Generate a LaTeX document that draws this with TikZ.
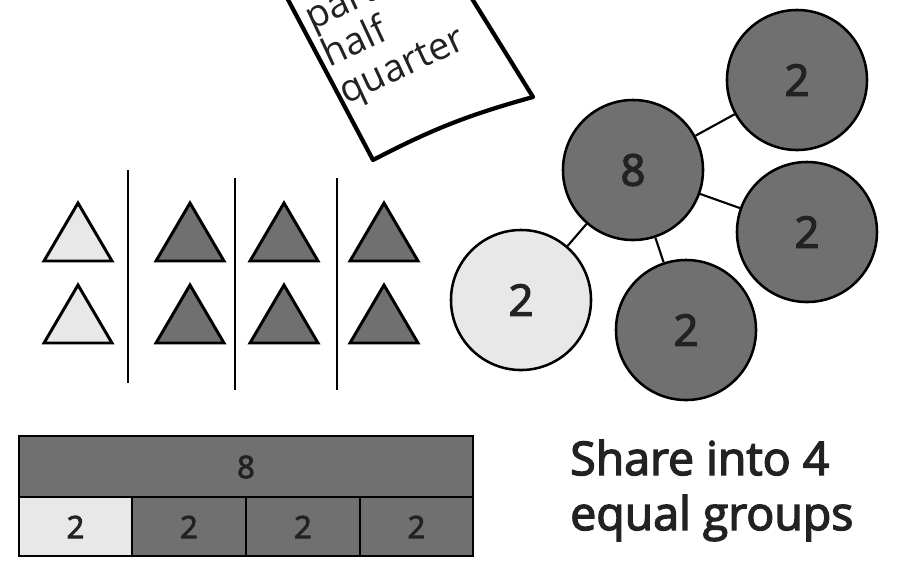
\documentclass[tikz,border=0pt]{standalone}
\usepackage{fontspec}
\setmainfont{Open Sans}
\newfontfamily\heavy{Open Sans}[FakeBold=3]
\usetikzlibrary{positioning}
\definecolor{shade}{HTML}{707070}
\definecolor{pale}{HTML}{E8E8E8}
\definecolor{ink}{HTML}{222222}

\begin{document}
\begin{tikzpicture}[x=0.025cm,y=-0.025cm,
  tri/.style={draw=black,line width=2.1pt,line join=miter},
  bubble/.style={circle,draw=black,line width=1.8pt,minimum size=3.5cm,inner sep=0pt,fill=shade,text=ink,font=\heavy\fontsize{31}{31}\selectfont},
  link/.style={line width=1.5pt},
  cell/.style={draw=black,line width=1.8pt},
  num/.style={text=ink,font=\heavy\fontsize{22}{22}\selectfont}]
\useasboundingbox (0,0) rectangle (922,562);
\draw[line width=3pt,fill=white,line join=round] (267,-40) -- (373,160) to[bend left=6] (533,97) -- (448,-40);
\node[rotate=25,anchor=west,align=left,inner sep=0pt,text=ink,font=\fontsize{27}{29}\selectfont] (words) at (326,60) {parts\\half\\quarter};
\foreach \cx/\col in {78/pale,190/shade,284/shade,384/shade}
  \foreach \by in {261,343}
    \draw[tri,fill=\col] (\cx-34,\by) -- (\cx,\by-58) -- (\cx+34,\by) -- cycle;
\draw[line width=1.8pt] (128,170) -- (128,383);
\draw[line width=1.8pt] (235,178) -- (235,390);
\draw[line width=1.8pt] (337,178) -- (337,390);
\node[bubble] (whole) at (633,170) {8};
\node[bubble] (partA) at (797,80) {2};
\node[bubble] (partB) at (807,232) {2};
\node[bubble] (partC) at (686,330) {2};
\node[bubble,fill=pale] (partD) at (521,300) {2};
\foreach \p in {partA,partB,partC,partD}
  \draw[link] (whole) -- (\p);
\draw[cell,fill=shade] (19,436) rectangle (473,497);
\draw[cell,fill=pale] (19,497) rectangle (132,556);
\draw[cell,fill=shade] (132,497) rectangle (246,556);
\draw[cell,fill=shade] (246,497) rectangle (360,556);
\draw[cell,fill=shade] (360,497) rectangle (473,556);
\node[num] (barwhole) at (246,467) {8};
\foreach \mx/\nm in {75.5/cellA,189/cellB,303/cellC,416.5/cellD}
  \node[num] (\nm) at (\mx,527) {2};
\node[anchor=base west,inner sep=0pt,text=ink,font=\heavy\fontsize{33}{39}\selectfont] (share) at (570,475) {Share into 4};
\node[anchor=base west,inner sep=0pt,text=ink,font=\heavy\fontsize{33}{39}\selectfont] (groups) at (570,530) {equal groups};
\end{tikzpicture}
\end{document}
